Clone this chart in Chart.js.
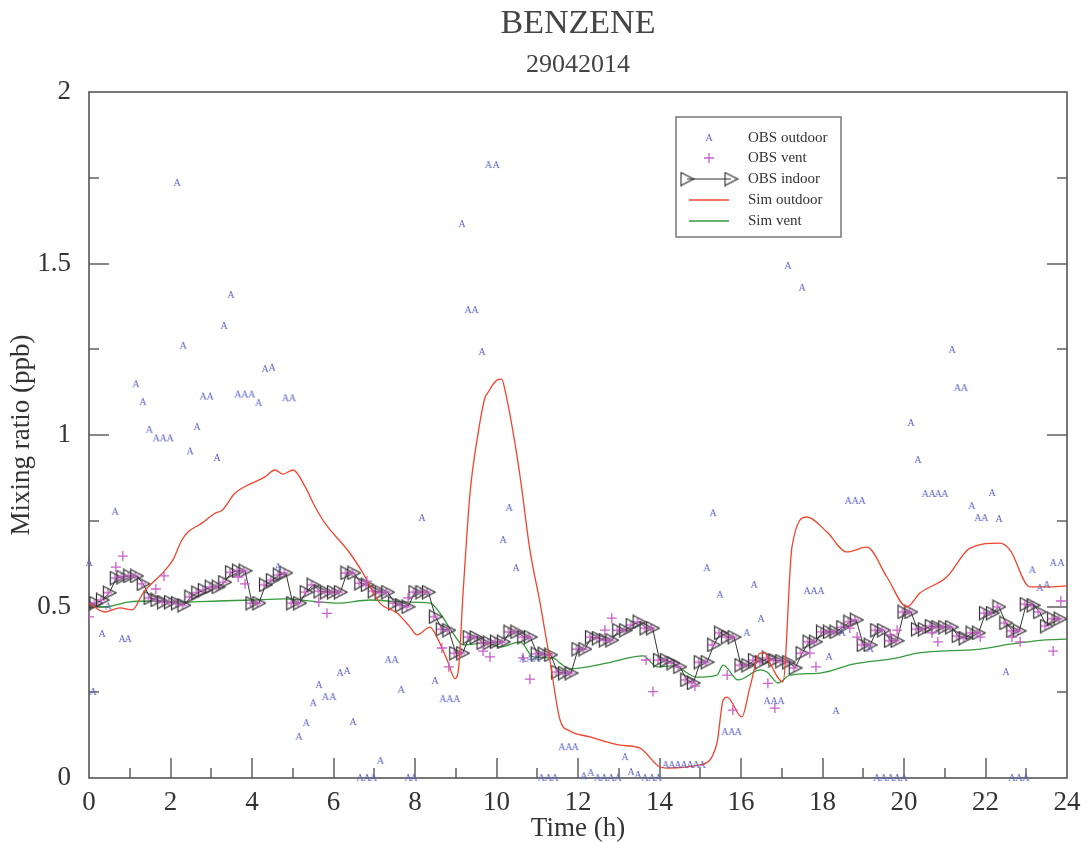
<!DOCTYPE html>
<html>
<head>
<meta charset="utf-8">
<script src="https://cdn.jsdelivr.net/npm/chart.js@4.4.0/dist/chart.umd.min.js"></script>
<style>
  html, body { margin: 0; padding: 0; background: #fff; }
  #wrap { width: 1088px; height: 842px; }
</style>
</head>
<body>
<div id="wrap"><canvas id="benzeneChart" width="1088" height="842"></canvas></div>
<script>
// ---- data (hours, ppb) ----
const chartTitle = 'BENZENE';
const chartDate = '29042014';
const xTicks = [0, 2, 4, 6, 8, 10, 12, 14, 16, 18, 20, 22, 24];
const yTicks = [0, 0.5, 1, 1.5, 2];

// OBS outdoor
const outdoorHours = [
  0.0, 0.1, 0.32, 0.47, 0.64, 0.81, 0.96, 1.15, 1.32, 1.48, 1.65, 1.82, 1.99, 2.16, 2.31, 2.48, 2.65, 2.8, 2.97,
  3.14, 3.31, 3.48, 3.65, 3.82, 3.99, 4.16, 4.32, 4.49, 4.64, 4.82, 4.99, 5.15, 5.33, 5.5, 5.64, 5.8, 5.98,
  6.16, 6.33, 6.48, 6.65, 6.82, 6.98, 7.15, 7.34, 7.51, 7.66, 7.83, 7.97, 8.17, 8.49, 8.68, 8.85, 9.02,
  9.15, 9.3, 9.47, 9.64, 9.8, 9.99, 10.16, 10.31, 10.48, 10.64, 10.81, 10.98, 11.1, 11.27, 11.43,
  11.6, 11.77, 11.93, 12.14, 12.31, 12.48, 12.64, 12.81, 12.98, 13.15, 13.3, 13.47, 13.64, 13.81, 13.97,
  14.15, 14.3, 14.45, 14.6, 14.75, 14.9, 15.05, 15.16, 15.31, 15.48, 15.6, 15.77, 15.93, 16.14, 16.32, 16.49,
  16.64, 16.81, 16.98, 17.15, 17.5, 17.62, 17.79, 17.96, 18.16, 18.33, 18.48, 18.63, 18.8, 18.97, 19.17,
  19.33, 19.5, 19.67, 19.83, 20.0, 20.17, 20.34, 20.52, 20.69, 20.84, 21.0, 21.18, 21.31, 21.48, 21.66,
  21.81, 21.98, 22.16, 22.33, 22.5, 22.65, 22.82, 22.99, 23.15, 23.33, 23.5, 23.66, 23.85
];
const outdoorValues = [
  0.627, 0.251, 0.42, 0.5, 0.776, 0.405, 0.405, 1.148, 1.096, 1.015, 0.99, 0.99, 0.99, 1.735, 1.26, 0.952, 1.023, 1.112, 1.112,
  0.933, 1.318, 1.408, 1.118, 1.118, 1.118, 1.093, 1.192, 1.196, 0.615, 1.107, 1.107, 0.12, 0.16, 0.218, 0.271, 0.236, 0.236,
  0.306, 0.312, 0.163, 0.0, 0.0, 0.0, 0.05, 0.344, 0.344, 0.257, 0.0, 0.0, 0.758, 0.283, 0.23, 0.23, 0.23,
  1.615, 1.364, 1.364, 1.242, 1.787, 1.787, 0.694, 0.787, 0.612, 0.347, 0.347, 0.347, 0.0, 0.0, 0.0,
  0.09, 0.09, 0.09, 0.005, 0.015, 0.0, 0.0, 0.0, 0.0, 0.061, 0.017, 0.009, 0.0, 0.0, 0.0,
  0.038, 0.038, 0.038, 0.038, 0.038, 0.038, 0.038, 0.612, 0.772, 0.534, 0.134, 0.134, 0.134, 0.423, 0.563, 0.464,
  0.224, 0.224, 0.224, 1.493, 1.429, 0.545, 0.545, 0.545, 0.353, 0.195, 0.423, 0.808, 0.808, 0.808, 0.376,
  0.0, 0.0, 0.0, 0.0, 0.0, 1.035, 0.927, 0.828, 0.828, 0.828, 0.828, 1.248, 1.137, 1.137, 0.793,
  0.758, 0.758, 0.831, 0.755, 0.309, 0.0, 0.0, 0.0, 0.606, 0.554, 0.563, 0.627, 0.627
];

// OBS vent (points not hidden under the indoor markers)
const ventHours = [
  0.0, 0.66, 0.83, 1.64, 1.84, 3.66, 3.83, 5.64, 5.84, 6.82, 7.83, 8.66, 8.83, 9.67, 9.84, 10.65, 10.82,
  12.66, 12.83, 13.67, 13.84, 14.87, 15.66, 15.8, 16.66, 16.83, 17.69, 17.84, 18.67, 18.85, 19.66, 19.83,
  20.69, 20.83, 21.87, 22.65, 22.85, 23.66, 23.85
];
const ventValues = [
  0.47, 0.615, 0.647, 0.551, 0.589, 0.586, 0.566, 0.513, 0.48, 0.574, 0.525, 0.379, 0.324, 0.37, 0.353, 0.35, 0.288,
  0.431, 0.466, 0.344, 0.252, 0.268, 0.3, 0.198, 0.276, 0.204, 0.364, 0.324, 0.437, 0.411, 0.417, 0.431,
  0.423, 0.397, 0.411, 0.411, 0.397, 0.37, 0.516
];

// OBS indoor (10 min)
const indoorHours = [
  0, 0.17, 0.33, 0.5, 0.67, 0.83, 1, 1.17, 1.33, 1.5, 1.67, 1.83, 2, 2.17, 2.33, 2.5, 2.67, 2.83,
  3, 3.17, 3.33, 3.5, 3.67, 3.83, 4, 4.17, 4.33, 4.5, 4.67, 4.83, 5, 5.17, 5.33, 5.5, 5.67, 5.83,
  6, 6.17, 6.33, 6.5, 6.67, 6.83, 7, 7.17, 7.33, 7.5, 7.67, 7.83, 8, 8.17, 8.33, 8.5, 8.67, 8.83,
  9, 9.17, 9.33, 9.5, 9.67, 9.83, 10, 10.17, 10.33, 10.5, 10.67, 10.83, 11, 11.17, 11.33, 11.5, 11.67, 11.83,
  12, 12.17, 12.33, 12.5, 12.67, 12.83, 13, 13.17, 13.33, 13.5, 13.67, 13.83, 14, 14.17, 14.33, 14.5, 14.67, 14.83,
  15, 15.17, 15.33, 15.5, 15.67, 15.83, 16, 16.17, 16.33, 16.5, 16.67, 16.83, 17, 17.17, 17.33, 17.5, 17.67, 17.83,
  18, 18.17, 18.33, 18.5, 18.67, 18.83, 19, 19.17, 19.33, 19.5, 19.67, 19.83, 20, 20.17, 20.33, 20.5, 20.67, 20.83,
  21, 21.17, 21.33, 21.5, 21.67, 21.83, 22, 22.17, 22.33, 22.5, 22.67, 22.83, 23, 23.17, 23.33, 23.5, 23.67, 23.83
];
const indoorValues = [
  0.504, 0.51, 0.519, 0.54, 0.583, 0.586, 0.589, 0.589, 0.566, 0.525, 0.519, 0.513, 0.513, 0.51, 0.504, 0.528, 0.54, 0.548,
  0.557, 0.557, 0.571, 0.6, 0.604, 0.604, 0.51, 0.51, 0.563, 0.577, 0.592, 0.598, 0.51, 0.51, 0.542, 0.563, 0.545, 0.542,
  0.542, 0.542, 0.598, 0.598, 0.568, 0.563, 0.545, 0.542, 0.542, 0.51, 0.504, 0.499, 0.542, 0.542, 0.542, 0.47, 0.434, 0.431,
  0.364, 0.364, 0.411, 0.41, 0.394, 0.394, 0.397, 0.397, 0.426, 0.426, 0.411, 0.411, 0.362, 0.362, 0.359, 0.309, 0.306, 0.306,
  0.376, 0.376, 0.411, 0.408, 0.402, 0.402, 0.431, 0.431, 0.446, 0.455, 0.437, 0.437, 0.344, 0.344, 0.335, 0.324, 0.286, 0.277,
  0.338, 0.338, 0.388, 0.423, 0.411, 0.411, 0.329, 0.329, 0.344, 0.338, 0.35, 0.344, 0.341, 0.338, 0.321, 0.364, 0.397, 0.397,
  0.426, 0.426, 0.426, 0.44, 0.455, 0.461, 0.388, 0.388, 0.431, 0.431, 0.4, 0.4, 0.484, 0.484, 0.434, 0.434, 0.443, 0.44,
  0.44, 0.44, 0.414, 0.408, 0.423, 0.423, 0.481, 0.481, 0.499, 0.452, 0.429, 0.429, 0.507, 0.504, 0.484, 0.443, 0.464, 0.464
];

// Sim outdoor
const simOutHours = [
  0, 0.39, 0.76, 1.06, 1.33, 1.87, 2.06, 2.28, 2.43, 2.77, 3.09, 3.26, 3.58, 3.83, 4.32, 4.56, 4.76, 5.01, 5.3, 5.55, 5.79,
  6.4, 6.72, 7.14, 7.56, 7.88, 8.05, 8.37, 8.54, 8.79, 8.98, 9.06, 9.18, 9.35, 9.55, 9.72, 9.77, 10.01, 10.13, 10.21,
  10.41, 10.58, 10.82, 11.07, 11.31, 11.56, 11.8, 12.29, 13.03, 13.52, 14.01, 14.18, 14.99, 15.41, 15.56, 15.66,
  16.02, 16.22, 16.47, 16.59, 16.71, 17.03, 17.25, 17.62, 18.11, 18.6, 19.09, 19.58, 20.07, 20.39, 21.05, 21.62,
  22.36, 22.6, 23.09, 23.51, 24
];
const simOutValues = [
  0.51, 0.484, 0.496, 0.49, 0.54, 0.606, 0.636, 0.694, 0.717, 0.743, 0.772, 0.78, 0.83, 0.85, 0.878, 0.898, 0.886, 0.898, 0.85, 0.79, 0.743,
  0.656, 0.598, 0.51, 0.481, 0.44, 0.417, 0.44, 0.41, 0.344, 0.29, 0.31, 0.54, 0.83, 1.006, 1.11, 1.12, 1.16, 1.163, 1.13,
  1.006, 0.878, 0.665, 0.51, 0.344, 0.169, 0.137, 0.12, 0.096, 0.087, 0.032, 0.029, 0.038, 0.102, 0.227, 0.236,
  0.178, 0.265, 0.364, 0.364, 0.335, 0.28, 0.673, 0.761, 0.717, 0.659, 0.673, 0.586, 0.499, 0.539, 0.586, 0.67,
  0.685, 0.665, 0.557, 0.557, 0.56
];

// Sim vent
const simVentHours = [
  0, 0.39, 0.96, 1.55, 2.36, 3.17, 4.0, 4.81, 5.67, 6.09, 6.9, 7.71, 8.37, 8.61, 8.93, 9.18, 9.77, 10.09, 10.58, 10.9,
  11.39, 11.56, 11.8, 12.71, 13.6, 13.94, 14.33, 14.92, 15.41, 15.56, 15.93, 16.47, 16.64, 16.91, 17.2, 17.94, 18.75,
  19.83, 20.32, 21.87, 22.6, 23.41, 24
];
const simVentValues = [
  0.504, 0.499, 0.513, 0.516, 0.513, 0.516, 0.519, 0.522, 0.513, 0.51, 0.519, 0.513, 0.51, 0.481, 0.423, 0.388, 0.394, 0.382, 0.397, 0.353,
  0.35, 0.335, 0.318, 0.335, 0.356, 0.324, 0.327, 0.294, 0.3, 0.329, 0.286, 0.315, 0.309, 0.277, 0.3, 0.306, 0.332,
  0.35, 0.364, 0.376, 0.39, 0.402, 0.405
];

// ---- styles ----
const SERIF = '"Liberation Serif", "DejaVu Serif", serif';
const BLUE = '#5b62c2';
const PINK = '#cc5fcc';
const RED = '#f0452c';
const GREEN = '#359a3c';
const DARK = '#333';

function pairs(xs, ys) {
  return xs.map((x, i) => ({ x: x, y: ys[i] }));
}

function glyphA() {
  const c = document.createElement('canvas');
  c.width = 10; c.height = 10;
  const g = c.getContext('2d');
  g.fillStyle = BLUE;
  g.font = '10px ' + SERIF;
  g.textAlign = 'center';
  g.textBaseline = 'middle';
  g.fillText('A', 5, 5.5);
  return c;
}

function triangleMarker(withPlus) {
  const c = document.createElement('canvas');
  c.width = 15; c.height = 15;
  const g = c.getContext('2d');
  if (withPlus) {
    g.strokeStyle = PINK; g.lineWidth = 1.3;
    g.beginPath();
    g.moveTo(2, 7.5); g.lineTo(10, 7.5);
    g.moveTo(6, 3.5); g.lineTo(6, 11.5);
    g.stroke();
  }
  g.strokeStyle = DARK; g.lineWidth = 1.2;
  g.beginPath();
  g.moveTo(1.5, 1); g.lineTo(14, 7.5); g.lineTo(1.5, 14); g.closePath();
  g.stroke();
  return c;
}

const markerA = glyphA();
const markerIndoor = triangleMarker(true);
const markerIndoorLegend = triangleMarker(false);

// frame and inward ticks (left, right, bottom)
const framePlugin = {
  id: 'frame',
  beforeDatasetsDraw(chart) {
    const ctx = chart.ctx, a = chart.chartArea;
    const xs = chart.scales.x, ys = chart.scales.y;
    ctx.save();
    ctx.strokeStyle = '#888';
    ctx.lineWidth = 2;
    ctx.beginPath();
    for (let h = 1; h < 24; h++) {
      const px = Math.round(xs.getPixelForValue(h));
      const len = h % 2 === 0 ? 20 : 10;
      ctx.moveTo(px, a.bottom); ctx.lineTo(px, a.bottom - len);
    }
    for (let k = 1; k < 8; k++) {
      const py = Math.round(ys.getPixelForValue(k * 0.25));
      const len = k % 2 === 0 ? 20 : 10;
      ctx.moveTo(a.left, py); ctx.lineTo(a.left + len, py);
      ctx.moveTo(a.right, py); ctx.lineTo(a.right - len, py);
    }
    ctx.stroke();
    ctx.strokeStyle = '#555';
    ctx.lineWidth = 1.6;
    ctx.strokeRect(a.left, a.top, a.right - a.left, a.bottom - a.top);
    ctx.restore();
  },
  afterDraw(chart) {
    const ctx = chart.ctx, a = chart.chartArea;
    const cx = (a.left + a.right) / 2;
    ctx.save();
    ctx.fillStyle = '#444';
    ctx.textAlign = 'center';
    ctx.textBaseline = 'middle';
    ctx.font = '34px ' + SERIF;
    ctx.fillText(chartTitle, cx, 24);
    ctx.font = '26px ' + SERIF;
    ctx.fillText(chartDate, cx, 65);

    // legend box
    const lx = 676, ly = 117, lw = 165, lh = 120;
    ctx.fillStyle = '#fff';
    ctx.fillRect(lx, ly, lw, lh);
    ctx.strokeStyle = '#777';
    ctx.lineWidth = 1.5;
    ctx.strokeRect(lx, ly, lw, lh);
    const rows = [138, 158, 179, 200, 221];
    const sx = 709, tx = 748;
    chart.data.datasets.forEach((ds, i) => {
      const y = rows[i];
      if (ds.label === 'OBS outdoor') {
        ctx.drawImage(markerA, sx - 5, y - 5);
      } else if (ds.label === 'OBS vent') {
        ctx.strokeStyle = PINK; ctx.lineWidth = 1.3;
        ctx.beginPath();
        ctx.moveTo(sx - 5, y); ctx.lineTo(sx + 5, y);
        ctx.moveTo(sx, y - 5); ctx.lineTo(sx, y + 5);
        ctx.stroke();
      } else if (ds.label === 'OBS indoor') {
        ctx.strokeStyle = DARK; ctx.lineWidth = 1;
        ctx.beginPath(); ctx.moveTo(687, y); ctx.lineTo(731, y); ctx.stroke();
        ctx.drawImage(markerIndoorLegend, 687 - 7.5, y - 7.5);
        ctx.drawImage(markerIndoorLegend, 731 - 7.5, y - 7.5);
      } else {
        ctx.strokeStyle = ds.borderColor; ctx.lineWidth = 1.3;
        ctx.beginPath(); ctx.moveTo(689, y); ctx.lineTo(729, y); ctx.stroke();
      }
      ctx.fillStyle = '#333';
      ctx.textAlign = 'left';
      ctx.font = '15px ' + SERIF;
      ctx.fillText(ds.label, tx, y);
    });
    ctx.restore();
  }
};

const ctx = document.getElementById('benzeneChart');
new Chart(ctx, {
  type: 'scatter',
  data: {
    datasets: [
      {
        label: 'OBS outdoor',
        data: pairs(outdoorHours, outdoorValues),
        pointStyle: markerA,
        pointRadius: 5,
        showLine: false,
        clip: false,
        order: 1
      },
      {
        label: 'OBS vent',
        data: pairs(ventHours, ventValues),
        pointStyle: 'cross',
        pointRadius: 5,
        borderColor: PINK,
        backgroundColor: PINK,
        borderWidth: 1.3,
        showLine: false,
        order: 2
      },
      {
        label: 'OBS indoor',
        data: pairs(indoorHours, indoorValues),
        pointStyle: markerIndoor,
        pointRadius: 7,
        borderColor: DARK,
        borderWidth: 1,
        showLine: true,
        tension: 0,
        order: 4
      },
      {
        label: 'Sim outdoor',
        data: pairs(simOutHours, simOutValues),
        borderColor: RED,
        borderWidth: 1.3,
        pointRadius: 0,
        showLine: true,
        cubicInterpolationMode: 'monotone',
        order: 3
      },
      {
        label: 'Sim vent',
        data: pairs(simVentHours, simVentValues),
        borderColor: GREEN,
        borderWidth: 1.3,
        pointRadius: 0,
        showLine: true,
        cubicInterpolationMode: 'monotone',
        order: 5
      }
    ]
  },
  options: {
    responsive: false,
    animation: false,
    devicePixelRatio: 1,
    events: [],
    layout: { padding: { top: 92, right: 21, left: 0, bottom: 0 } },
    plugins: {
      legend: { display: false },
      tooltip: { enabled: false },
      title: { display: false }
    },
    scales: {
      x: {
        type: 'linear',
        min: 0,
        max: 24,
        afterFit: (s) => { s.height = 64; },
        afterBuildTicks: (s) => { s.ticks = xTicks.map(v => ({ value: v })); },
        grid: { display: false },
        border: { display: false },
        ticks: { color: '#333', padding: 1, maxRotation: 0, font: { family: SERIF, size: 27 }, callback: (v) => String(v) },
        title: { display: true, text: 'Time (h)', color: '#333', padding: { top: 0, bottom: -3 }, font: { family: SERIF, size: 27 } }
      },
      y: {
        type: 'linear',
        min: 0,
        max: 2,
        afterFit: (s) => { s.width = 89; },
        afterBuildTicks: (s) => { s.ticks = yTicks.map(v => ({ value: v })); },
        grid: { display: false },
        border: { display: false },
        ticks: { color: '#333', padding: 10, font: { family: SERIF, size: 27 }, callback: (v) => String(v) },
        title: { display: true, text: 'Mixing ratio (ppb)', color: '#333', padding: { top: 6, bottom: 0 }, font: { family: SERIF, size: 27 } }
      }
    }
  },
  plugins: [framePlugin]
});
</script>
</body>
</html>
